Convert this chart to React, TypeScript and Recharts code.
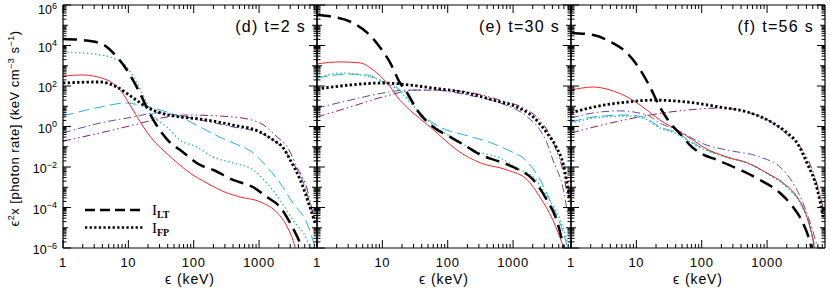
import React from 'react';
import { LineChart, Line, XAxis, YAxis } from 'recharts';

// ---------------- layout ----------------
const CHART_W = 830;
const CHART_H = 291;
const PLOT_TOP = 5;
const PLOT_BOTTOM = 248;
const PANEL_W = 254;
const PANEL_LEFTS = [63, 317, 571];
const AXIS_THICK = 1; // axis band size (Recharts skips axes of size 0)
const FONT = 'Liberation Sans, Arial, Helvetica, sans-serif';

// ---------------- axes ----------------
const X_DOMAIN: [number, number] = [1, 7700];
const Y_DOMAIN: [number, number] = [1e-6, 1e6];
const X_DECADES = [1, 10, 100, 1000];
const Y_DECADE_EXPONENTS = [-6, -5, -4, -3, -2, -1, 0, 1, 2, 3, 4, 5];
const MULTS = [1, 2, 3, 4, 5, 6, 7, 8, 9];
const Y_LABELLED = [6, 4, 2, 0, -2, -4, -6];

const X_TICKS = X_DECADES.flatMap((d) => MULTS.map((m) => m * d)).filter((v) => v <= X_DOMAIN[1]);
const Y_TICKS = [
  ...Y_DECADE_EXPONENTS.flatMap((n) => MULTS.map((m) => Number((m * Math.pow(10, n)).toPrecision(3)))),
  1e6,
];

const PANEL_TITLES = ['(d) t=2 s', '(e) t=30 s', '(f) t=56 s'];
const X_TITLE = '\u03F5 (keV)';
const LEGEND_NAMES = [
  { main: 'I', sub: 'LT' },
  { main: 'I', sub: 'FP' },
];

// ---------------- data: [energy keV, eps^2 x photon rate] ----------------
type Pair = [number, number];

// panel (d) t = 2 s
const dLT: Pair[] = [[1, 2.1e4], [1.8, 1.9e4], [3.7, 1.3e4], [6.7, 2.7e3], [9.5, 6.2e2], [15, 45], [21, 4.7], [44, 0.155], [62, 0.069], [125, 0.0126], [200, 0.0071], [400, 0.0023], [815, 1.0e-3], [1320, 3.3e-4], [2100, 1.05e-4], [3000, 1.7e-5], [4270, 1.7e-6], [5100, 4.5e-7]];
const dFP: Pair[] = [[1, 141], [3.7, 158], [6.7, 89], [11.8, 26], [19.3, 9.1], [31, 4.7], [62, 2.95], [125, 2.34], [400, 1.17], [1040, 0.54], [1660, 0.21], [2340, 0.089], [3000, 0.022], [4270, 2.3e-3], [6000, 1.05e-4], [7200, 1.7e-5]];
const dRed: Pair[] = [[1, 310], [2, 350], [4.7, 200], [7.5, 63], [11.8, 6.5], [17, 0.95], [24, 0.21], [34, 0.069], [56, 0.016], [88, 0.005], [160, 1.6e-3], [325, 5.2e-4], [515, 3.3e-4], [1040, 1.9e-4], [1900, 5.4e-5], [2700, 1.1e-5], [3550, 1.1e-6], [4000, 2e-7]];
const dGreen: Pair[] = [[1, 4.8e3], [3.7, 3.4e3], [5.8, 2.4e3], [9.5, 870], [13.5, 141], [19.3, 14.5], [24, 3.7], [39, 0.95], [62, 0.21], [112, 0.098], [198, 0.031], [400, 0.016], [815, 0.0071], [1320, 1.6e-3], [2100, 2.3e-4], [3300, 2.4e-5], [5400, 2.5e-6], [6500, 5e-7]];
const dCyan: Pair[] = [[1, 3.3], [3.7, 9.1], [9.5, 14.5], [17, 10.2], [31, 6.5], [62, 3.0], [125, 0.95], [250, 0.3], [400, 0.155], [815, 0.049], [1320, 0.01], [2100, 1.6e-3], [3300, 1.66e-4], [5400, 1.7e-5], [7200, 1.1e-6]];
const dBlue: Pair[] = [[1, 0.48], [3.7, 1.48], [11.8, 2.95], [27.5, 4.7], [56, 3.7], [125, 2.1], [400, 0.95], [1040, 0.48], [1660, 0.21], [2340, 0.08], [3300, 0.016], [4800, 1.6e-3], [6000, 1.66e-4], [7200, 2.4e-5]];
const dPurple: Pair[] = [[1, 0.19], [3.7, 0.48], [11.8, 1.17], [39, 2.95], [79, 3.7], [400, 2.95], [1040, 1.48], [1900, 0.3], [2700, 0.098], [3800, 0.01], [5500, 7.2e-4], [6800, 3.4e-5]];

// panel (e) t = 30 s
const eLT: Pair[] = [[1, 3.2e5], [1.76, 2.6e5], [3.55, 1.3e5], [5.9, 4.2e4], [9.1, 8.5e3], [13.2, 1.4e3], [18.6, 141], [24, 45], [34, 6.5], [60, 0.95], [110, 0.3], [200, 0.098], [282, 0.049], [630, 0.018], [1000, 0.01], [2040, 2.3e-3], [3300, 2.3e-4], [4800, 1.7e-5], [5900, 1.1e-6], [6500, 2e-7]];
const eFP: Pair[] = [[1, 71], [3.2, 112], [10.2, 141], [26, 112], [60, 79], [200, 45], [500, 20], [1150, 9.1], [2040, 2.95], [3300, 0.48], [4570, 0.098], [5900, 0.0126], [7400, 2.3e-4]];
const eRed: Pair[] = [[1, 1230], [2.24, 1550], [4.6, 1380], [7.2, 620], [11.8, 141], [18.6, 20], [29.5, 4.7], [54, 0.95], [91, 0.21], [138, 0.069], [316, 0.016], [815, 7.1e-3], [1660, 2.3e-3], [2570, 3.3e-4], [4070, 2.4e-5], [5900, 1.1e-6]];
const eGreen: Pair[] = [[1, 224], [2.24, 437], [4.6, 350], [13.2, 112], [20.9, 36], [34, 6.5], [60, 1.17], [138, 0.21], [245, 0.069], [630, 0.028], [1290, 7.1e-3], [2040, 3.2e-3], [3300, 3.5e-4], [5250, 2.5e-5], [6800, 2e-6]];
const eCyan: Pair[] = [[1, 251], [3.2, 390], [5.9, 350], [10.2, 158], [17, 79], [24, 29], [38, 4.7], [76, 0.95], [200, 0.35], [450, 0.16], [815, 0.071], [1660, 0.018], [2570, 2.5e-3], [4070, 1.05e-4], [5900, 5.5e-6], [6800, 1.1e-6]];
const eBlue: Pair[] = [[1, 8.1], [3.2, 20], [10.2, 45], [24, 63], [60, 63], [200, 36], [630, 14.5], [1660, 2.95], [2570, 0.68], [3300, 0.155], [4070, 0.022], [5900, 7.2e-4], [6800, 5.4e-5]];
const ePurple: Pair[] = [[1, 2.95], [3.2, 9.1], [10.2, 29], [34, 63], [85, 63], [245, 45], [630, 20], [1660, 6.5], [2570, 2.1], [3700, 0.35], [4570, 0.069], [5900, 5.0e-3], [6900, 2.3e-4]];

// panel (f) t = 56 s
const fLT: Pair[] = [[1, 4.2e4], [2.2, 3.3e4], [4.4, 1.3e4], [7.2, 4.3e3], [11.5, 620], [16.2, 89], [22.9, 9.1], [33, 1.48], [52, 0.3], [66, 0.12], [95, 0.049], [174, 0.022], [390, 7.1e-3], [780, 2.3e-3], [1580, 5.2e-4], [2500, 1.05e-4], [3550, 1.7e-5], [4570, 1.8e-6], [5000, 5e-7]];
const fFP: Pair[] = [[1, 4.7], [2.2, 9.1], [7.2, 16.2], [18.2, 20], [60, 16.2], [190, 9.1], [500, 5.2], [1230, 1.48], [2040, 0.48], [2880, 0.155], [4070, 0.016], [5900, 7.2e-4], [7200, 3.4e-5]];
const fRed: Pair[] = [[1, 63], [2.2, 89], [4.0, 63], [7.2, 29], [12.6, 9.1], [22.9, 2.1], [41.7, 0.68], [74, 0.21], [105, 0.098], [245, 0.031], [500, 0.016], [1000, 5.0e-3], [1780, 1.6e-3], [2880, 3.3e-4], [4070, 3.4e-5], [5130, 1.8e-6], [5600, 3e-7]];
const fGreen: Pair[] = [[1, 1.4], [2.2, 2.6], [7.2, 3.3], [12.6, 2.6], [22.9, 0.85], [41.7, 0.42], [74, 0.14], [95, 0.09], [245, 0.029], [500, 0.015], [1000, 4.7e-3], [2040, 9.5e-4], [3240, 1.55e-4], [4570, 1.0e-5], [5370, 1.0e-6]];
const fCyan: Pair[] = [[1, 1.66], [2.2, 2.95], [7.2, 3.7], [12.6, 2.95], [22.9, 0.95], [41.7, 0.48], [74, 0.155], [95, 0.098], [245, 0.031], [500, 0.016], [1000, 5.0e-3], [2040, 1.0e-3], [3240, 1.66e-4], [4570, 1.1e-5], [5370, 1.1e-6]];
const fBlue: Pair[] = [[1, 2.6], [2.2, 4.7], [5.6, 5.9], [14.5, 3.7], [22.9, 1.48], [41.7, 0.68], [74, 0.25], [112, 0.13], [245, 0.069], [780, 0.031], [1580, 0.01], [2500, 1.6e-3], [3550, 1.66e-4], [5130, 5.5e-6], [5900, 1.1e-6]];
const fPurple: Pair[] = [[1, 0.48], [4.0, 1.48], [16.2, 3.7], [60, 6.5], [190, 8.1], [500, 5.2], [1230, 1.48], [2240, 0.3], [3240, 0.098], [5130, 5.0e-3], [7200, 1.05e-4]];

// ---------------- styles ----------------
const STYLES: Record<string, any> = {
  red: { stroke: '#f3262b', strokeWidth: 1 },
  green: { stroke: '#2dbf86', strokeWidth: 1.3, strokeDasharray: '1.5 2.5' },
  cyan: { stroke: '#22aee8', strokeWidth: 1, strokeDasharray: '11 5' },
  blue: { stroke: '#5a4fb2', strokeWidth: 1, strokeDasharray: '8 3 1.5 3' },
  purple: { stroke: '#8a1f6b', strokeWidth: 1, strokeDasharray: '8 3 1.5 3 1.5 3' },
  lt: { stroke: '#000', strokeWidth: 2.5, strokeDasharray: '14 7' },
  fp: { stroke: '#000', strokeWidth: 2.8, strokeDasharray: '2.4 2.3' },
};

type Curve = { key: string; data: Pair[]; style: string };
const PANELS: Curve[][] = [
  [
    { key: 'purple', data: dPurple, style: 'purple' },
    { key: 'blue', data: dBlue, style: 'blue' },
    { key: 'cyan', data: dCyan, style: 'cyan' },
    { key: 'green', data: dGreen, style: 'green' },
    { key: 'red', data: dRed, style: 'red' },
    { key: 'fp', data: dFP, style: 'fp' },
    { key: 'lt', data: dLT, style: 'lt' },
  ],
  [
    { key: 'purple', data: ePurple, style: 'purple' },
    { key: 'blue', data: eBlue, style: 'blue' },
    { key: 'cyan', data: eCyan, style: 'cyan' },
    { key: 'green', data: eGreen, style: 'green' },
    { key: 'red', data: eRed, style: 'red' },
    { key: 'fp', data: eFP, style: 'fp' },
    { key: 'lt', data: eLT, style: 'lt' },
  ],
  [
    { key: 'purple', data: fPurple, style: 'purple' },
    { key: 'blue', data: fBlue, style: 'blue' },
    { key: 'cyan', data: fCyan, style: 'cyan' },
    { key: 'green', data: fGreen, style: 'green' },
    { key: 'red', data: fRed, style: 'red' },
    { key: 'fp', data: fFP, style: 'fp' },
    { key: 'lt', data: fLT, style: 'lt' },
  ],
];

const toRows = (pairs: Pair[]) => pairs.map(([e, v]) => ({ e, v }));

// ---------------- ticks ----------------
const isDecade = (v: number) => {
  const lg = Math.log10(v);
  return Math.abs(lg - Math.round(lg)) < 1e-6;
};

const makeYTick = (side: 'left' | 'right', showLabels: boolean) => (props: any) => {
  const { x, y, payload } = props;
  const v = payload.value;
  const n = Math.round(Math.log10(v));
  const dec = isDecade(v);
  const labelled = dec && Y_LABELLED.includes(n);
  const len = labelled ? 8 : dec ? 5 : 3.5;
  const dir = side === 'left' ? 1 : -1;
  const baseline = Math.max(y + 6, 14);
  return (
    <g>
      <line x1={x} y1={y} x2={x + dir * len} y2={y} stroke="#000" strokeWidth={1} />
      {showLabels && labelled && (
        <text x={x - 6} y={baseline} textAnchor="end" fontSize={12.5} fontFamily={FONT} fill="#000">
          10
          <tspan dy={-5.5} fontSize={9}>
            {n < 0 ? '\u2212' + Math.abs(n) : String(n)}
          </tspan>
        </text>
      )}
    </g>
  );
};

const makeXTick = (side: 'bottom' | 'top', showLabels: boolean) => (props: any) => {
  const { x, y, payload } = props;
  const v = payload.value;
  const dec = isDecade(v);
  const len = dec ? 8 : 4;
  const dir = side === 'bottom' ? -1 : 1;
  return (
    <g>
      <line x1={x} y1={y} x2={x} y2={y + dir * len} stroke="#000" strokeWidth={1} />
      {showLabels && dec && (
        <text x={x} y={y + 19} textAnchor="middle" fontSize={13} letterSpacing={0.7} fontFamily={FONT} fill="#000">
          {String(v)}
        </text>
      )}
    </g>
  );
};

// ---------------- labels ----------------
const XTitle = ({ cx }: any) => (
  <text x={cx} y={284} textAnchor="middle" fontSize={14} letterSpacing={0.9} fontFamily={FONT} fill="#000">
    {X_TITLE}
  </text>
);

const PanelTitle = ({ xEnd, text }: any) => (
  <text x={xEnd} y={32} textAnchor="end" fontSize={16} letterSpacing={1.3} fontFamily={FONT} fill="#000">
    {text}
  </text>
);

const YTitle = () => {
  const cy = (PLOT_TOP + PLOT_BOTTOM) / 2;
  return (
    <text
      transform="rotate(-90)"
      x={-cy - 2}
      y={19}
      textAnchor="middle"
      fontSize={13}
      letterSpacing={0.5}
      fontFamily={FONT}
      fill="#000"
    >
      {'\u03F5'}
      <tspan dy={-5} fontSize={9}>2</tspan>
      <tspan dy={5}>x [photon rate] (keV cm</tspan>
      <tspan dy={-5} fontSize={9}>{'\u22123'}</tspan>
      <tspan dy={5}> s</tspan>
      <tspan dy={-5} fontSize={9}>{'\u22121'}</tspan>
      <tspan dy={5}>)</tspan>
    </text>
  );
};

const LegendMarks = () => (
  <g>
    <line x1={85} x2={140} y1={210} y2={210} stroke="#000" strokeWidth={2.4} strokeDasharray="10 5" />
    <line x1={85} x2={143} y1={227.5} y2={227.5} stroke="#000" strokeWidth={2.6} strokeDasharray="2.3 2.3" />
    {LEGEND_NAMES.map((n, i) => (
      <text key={n.sub} x={152} y={215 + i * 17.5} fontSize={15} fontFamily="Liberation Serif, DejaVu Serif, serif" fill="#000">
        {n.main}
        <tspan dy={3} fontSize={10} fontWeight="bold">
          {n.sub}
        </tspan>
      </text>
    ))}
  </g>
);

// ---------------- panel ----------------
const AXIS_LINE = { stroke: '#000', strokeWidth: 1.2 };

function Panel({ index }: { index: number }) {
  const left = PANEL_LEFTS[index];
  const right = CHART_W - left - PANEL_W;
  const first = index === 0;
  return (
    <div style={{ position: 'absolute', left: 0, top: 0 }}>
      <LineChart
        width={CHART_W}
        height={CHART_H}
        margin={{
          top: PLOT_TOP - AXIS_THICK,
          bottom: CHART_H - PLOT_BOTTOM - AXIS_THICK,
          left: left - AXIS_THICK,
          right: right - AXIS_THICK,
        }}
      >
        <XAxis
          xAxisId="b"
          dataKey="e"
          type="number"
          scale="log"
          domain={X_DOMAIN}
          allowDataOverflow
          ticks={X_TICKS}
          interval={0}
          height={AXIS_THICK}
          tickSize={0}
          tickMargin={0}
          tickLine={false}
          axisLine={AXIS_LINE}
          tick={makeXTick('bottom', true)}
          label={<XTitle cx={left + PANEL_W / 2} />}
        />
        <XAxis
          xAxisId="t"
          orientation="top"
          dataKey="e"
          type="number"
          scale="log"
          domain={X_DOMAIN}
          allowDataOverflow
          ticks={X_TICKS}
          interval={0}
          height={AXIS_THICK}
          tickSize={0}
          tickMargin={0}
          tickLine={false}
          axisLine={AXIS_LINE}
          tick={makeXTick('top', false)}
          label={first ? <LegendMarks /> : undefined}
        />
        <YAxis
          yAxisId="l"
          type="number"
          scale="log"
          domain={Y_DOMAIN}
          allowDataOverflow
          ticks={Y_TICKS}
          interval={0}
          width={AXIS_THICK}
          tickSize={0}
          tickMargin={0}
          tickLine={false}
          axisLine={AXIS_LINE}
          tick={makeYTick('left', first)}
          label={first ? <YTitle /> : undefined}
        />
        <YAxis
          yAxisId="r"
          orientation="right"
          type="number"
          scale="log"
          domain={Y_DOMAIN}
          allowDataOverflow
          ticks={Y_TICKS}
          interval={0}
          width={AXIS_THICK}
          tickSize={0}
          tickMargin={0}
          tickLine={false}
          axisLine={AXIS_LINE}
          tick={makeYTick('right', false)}
          label={<PanelTitle xEnd={left + PANEL_W - 11} text={PANEL_TITLES[index]} />}
        />
        {PANELS[index].map((c) => (
          <Line
            key={c.key}
            xAxisId="b"
            yAxisId="l"
            data={toRows(c.data)}
            dataKey="v"
            type="monotone"
            dot={false}
            activeDot={false}
            isAnimationActive={false}
            {...STYLES[c.style]}
          />
        ))}
      </LineChart>
    </div>
  );
}

export default function App() {
  return (
    <div style={{ position: 'fixed', left: 0, top: 0, width: CHART_W, height: CHART_H, background: '#fff' }}>
      {[0, 1, 2].map((i) => (
        <Panel key={i} index={i} />
      ))}
    </div>
  );
}
